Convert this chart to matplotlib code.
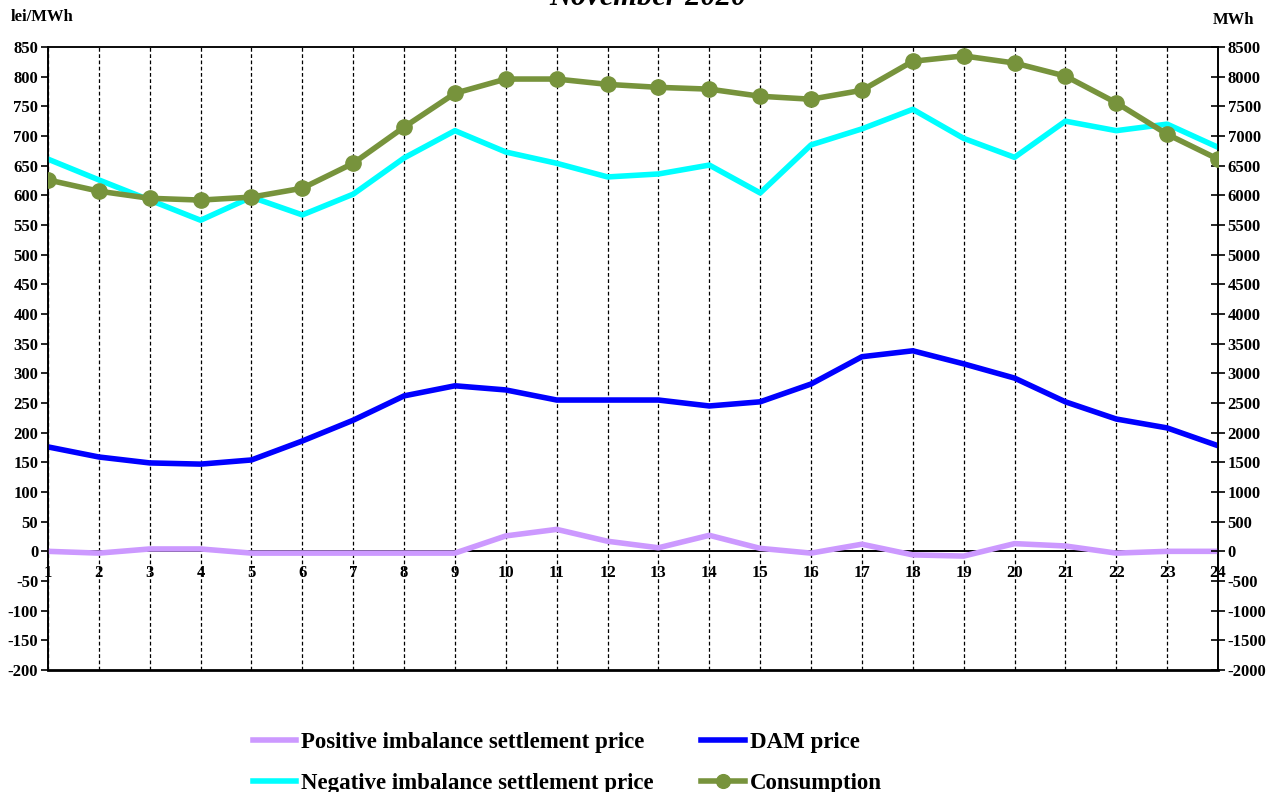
import numpy as np
import matplotlib.pyplot as plt

hours = list(range(1, 25))

positive_price = [0, -3, 4, 4, -3, -3, -3, -3, -3, 26, 37, 17, 6, 27, 5, -3,
                  12, -6, -8, 13, 9, -3, 0, 0]
negative_price = [661, 626, 592, 558, 597, 567, 602, 663, 709, 673, 654, 631,
                  636, 651, 604, 685, 712, 745, 696, 664, 725, 709, 720, 681]
dam_price = [176, 159, 149, 147, 154, 186, 221, 262, 279, 272, 255, 255,
             255, 245, 252, 282, 328, 338, 316, 292, 252, 223, 208, 178]
consumption = [6260, 6070, 5950, 5920, 5970, 6120, 6540, 7150, 7720, 7960,
               7960, 7870, 7820, 7790, 7670, 7620, 7770, 8260, 8350, 8230,
               8010, 7560, 7030, 6610]

left_ticks = list(range(-200, 851, 50))
right_ticks = list(range(-2000, 8501, 500))

plt.rcParams['font.family'] = ['Liberation Serif', 'DejaVu Serif']
plt.rcParams['font.weight'] = 'bold'
plt.rcParams['axes.unicode_minus'] = False

fig = plt.figure(figsize=(12.82, 7.92), dpi=100)
ax = fig.add_axes([48 / 1282, 1 - 670 / 792, 1170 / 1282, 623 / 792])
ax2 = ax.twinx()

# vertical dashed grid at every hour
for h in hours:
    ax.axvline(h, color='black', lw=0.9, ls=(0, (3, 2)), zorder=1)

ax.axhline(0, color='black', lw=1.2, zorder=2)

l1, = ax.plot(hours, positive_price, color='#CC99FF', lw=4, zorder=3,
              label='Positive imbalance settlement price')
l2, = ax.plot(hours, negative_price, color='#00FFFF', lw=4, zorder=3,
              label='Negative imbalance settlement price')
l3, = ax.plot(hours, dam_price, color='#0000FF', lw=4, zorder=3,
              label='DAM price')
l4, = ax2.plot(hours, consumption, color='#77933C', lw=4, marker='o',
               markersize=11, zorder=3, label='Consumption')

ax.set_xlim(1, 24)
ax.set_ylim(-200, 850)
ax2.set_ylim(-2000, 8500)
ax.set_yticks(left_ticks)
ax2.set_yticks(right_ticks)
ax.set_xticks(hours)

ax.tick_params(axis='y', direction='out', length=5, width=1.2, labelsize=12, pad=2)
ax2.tick_params(axis='y', direction='inout', length=10, width=1.2, labelsize=12, pad=2)
ax.tick_params(axis='x', length=0, labelsize=12, pad=10)

# x labels sit under the zero line
ax.spines['bottom'].set_position(('data', 0))
ax.spines['bottom'].set_linewidth(1.2)
ax.axhline(-200, color='black', lw=2, clip_on=False)
for s in ['left', 'right', 'top']:
    ax.spines[s].set_linewidth(1.2)
    ax2.spines[s].set_linewidth(1.2)
ax2.spines['bottom'].set_visible(False)
ax.spines['top'].set_color('#444444')

fig.text(11 / 1282, 1 - 21 / 792, 'lei/MWh', fontsize=12, fontweight='bold')
fig.text(1213 / 1282, 1 - 24 / 792, 'MWh', fontsize=12, fontweight='bold')
fig.text(648 / 1282, 1 - 5 / 792, 'November 2020', fontsize=22,
         fontweight='bold', fontstyle='italic', ha='center', va='baseline')

fig.legend(handles=[l1, l2, l3, l4], ncol=2, loc='center',
           bbox_to_anchor=(567 / 1282, 1 - 763 / 792), frameon=False,
           fontsize=16.5, handlelength=1.9, handletextpad=0.2,
           columnspacing=2.1, labelspacing=0.85, markerscale=0.9)

fig.savefig('out.png', dpi=100)
